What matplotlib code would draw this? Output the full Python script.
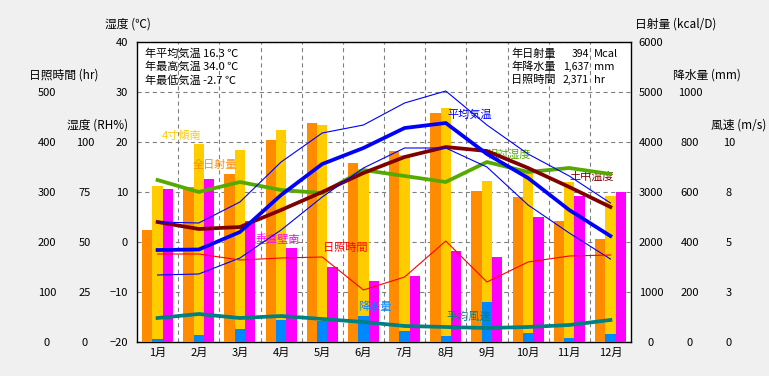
import numpy as np
import matplotlib
matplotlib.use("Agg")
import matplotlib.pyplot as plt

plt.rcParams['font.family'] = ['Noto Sans CJK JP', 'DejaVu Sans']
plt.rcParams['lines.scale_dashes'] = False

months = ["1月", "2月", "3月", "4月", "5月", "6月", "7月", "8月", "9月", "10月", "11月", "12月"]

# 日射量 (kcal/D)
solar_total = [2240, 3100, 3360, 4040, 4380, 3580, 3820, 4580, 3020, 2900, 2420, 2060]   # 全日射量
solar_tilt = [3120, 3960, 3840, 4240, 4340, 3460, 3740, 4680, 3220, 3400, 3200, 2920]    # 4寸傾南
solar_wall = [3060, 3260, 2420, 1880, 1500, 1220, 1320, 1820, 1700, 2500, 2920, 3000]    # 垂直壁南
# 降水量 (mm)
precip = [12, 28, 52, 88, 84, 104, 44, 24, 160, 36, 16, 32]
# 温度 (℃)
temp_mean = [-1.6, -1.5, 2.0, 9.4, 15.6, 18.8, 22.8, 23.8, 17.6, 12.8, 6.4, 1.2]
temp_max = [4.0, 3.8, 8.0, 16.0, 21.8, 23.4, 27.8, 30.2, 23.4, 17.6, 13.2, 7.8]
temp_min = [-6.6, -6.4, -3.2, 2.4, 9.0, 14.8, 18.8, 18.8, 15.0, 7.4, 1.8, -3.4]
soil_temp = [4.0, 2.6, 3.0, 6.4, 10.0, 13.8, 17.0, 19.0, 18.2, 14.8, 11.0, 7.0]
# 湿度 (RH%)
humidity = [81, 75, 80, 76, 74.5, 86, 83, 80, 90, 85, 87, 84]
# 日照時間 (hr)
sunshine = [176, 176, 164, 168, 170, 104, 130, 202, 120, 160, 172, 174]
# 風速 (m/s)
wind = [1.2, 1.4, 1.2, 1.3, 1.15, 1.0, 0.8, 0.75, 0.7, 0.75, 0.85, 1.1]

temp_ticks = [-20, -10, 0, 10, 20, 30, 40]
sun_ticks = [0, 100, 200, 300, 400, 500]
hum_ticks = [0, 25, 50, 75, 100]
solar_ticks = [0, 1000, 2000, 3000, 4000, 5000, 6000]
prec_ticks = [0, 200, 400, 600, 800, 1000]
wind_ticks = [0, 2.5, 5, 7.5, 10]
wind_labels = ["0", "3", "5", "8", "10"]

W, H = 769, 376
fig = plt.figure(figsize=(W / 100, H / 100), dpi=100, facecolor='#f0f0f0')
L, T, R, B = 137, 42, 631, 342
ax = fig.add_axes([L / W, 1 - B / H, (R - L) / W, (B - T) / H])
x = np.arange(1, 13)


def fpos(xp, yp):
    return xp / W, 1 - yp / H


def twin(lo, hi):
    a = ax.twinx()
    a.set_ylim(lo, hi)
    a.patch.set_visible(False)
    for s in a.spines.values():
        s.set_visible(False)
    a.set_yticks([])
    return a


def scale_labels(a, side, off_px, ticks, labels=None):
    if labels is None:
        labels = [str(t) for t in ticks]
    a.set_yticks(ticks, labels=labels)
    if side == 'left':
        a.yaxis.tick_left()
    else:
        a.yaxis.tick_right()
    a.spines[side].set_position(('outward', off_px * 0.72))
    a.tick_params(axis='y', length=0, pad=0, labelsize=8)
    for t in a.yaxis.get_major_ticks():
        t.label1.set_ha('center')
        t.label2.set_ha('center')


# main axis: temperature
ax.set_xlim(0.5, 12.5)
ax.set_ylim(-20, 40)
ax.set_yticks(temp_ticks)
ax.tick_params(axis='y', length=0, pad=6.5, labelsize=8)
ax.set_xticks(x, labels=months)
ax.set_xticks(np.arange(1.5, 12, 1), minor=True)
ax.tick_params(axis='x', which='both', length=0, pad=4, labelsize=8)
gstyle = dict(color='#808080', ls=(0, (3, 2.5)), lw=0.8)
ax.grid(which='minor', axis='x', **gstyle)
ax.grid(which='major', axis='y', **gstyle)
ax.set_axisbelow(True)
for s in ax.spines.values():
    s.set_linewidth(1.0)
    s.set_color('black')

# bars
ax_solar = twin(0, 6000)
ax_solar.bar(x - 0.25, solar_total, 0.25, color='#ff8c00', lw=0)
ax_solar.bar(x, solar_tilt, 0.25, color='#ffcc00', lw=0)
ax_solar.bar(x + 0.25, solar_wall, 0.25, color='#ff00ff', lw=0)
scale_labels(ax_solar, 'right', 20, solar_ticks)

ax_prec = twin(0, 1200)
ax_prec.bar(x, precip, 0.25, color='#0088ff', lw=0)
scale_labels(ax_prec, 'right', 59, prec_ticks)

# series labels
ax_txt = twin(-20, 40)
series_labels = [
    ("4寸傾南", '#ffcc00', 162, 136),
    ("全日射量", '#ff8c00', 193, 165),
    ("垂直壁南", '#ff00ff', 255, 240),
    ("日照時間", '#ff0000', 323, 248),
    ("降水量", '#0088ff', 358, 307),
    ("平均風速", '#008080', 446, 317),
    ("平均気温", '#0000ff', 447, 115),
    ("相対湿度", '#55aa00', 487, 155),
    ("土中温度", '#800000', 569, 177),
]
for s, c, xp, yp in series_labels:
    ax_txt.text(*fpos(xp, yp), s, color=c, fontsize=8, ha='left', va='center',
                transform=fig.transFigure)

# lines
ax_hum = twin(0, 150)
ax_hum.plot(x, humidity, color='#55aa00', lw=2.7)
scale_labels(ax_hum, 'left', 52, hum_ticks)

ax_tl = twin(-20, 40)
ax_tl.plot(x, soil_temp, color='#800000', lw=2.7)
ax_tl.plot(x, temp_mean, color='#0000ff', lw=2.7)
ax_tl.plot(x, temp_max, color='#0000ff', lw=0.8)
ax_tl.plot(x, temp_min, color='#0000ff', lw=0.8)

ax_sun = twin(0, 600)
ax_sun.plot(x, sunshine, color='#ff0000', lw=0.8)
scale_labels(ax_sun, 'left', 90, sun_ticks)

ax_wind = twin(0, 15)
ax_wind.plot(x, wind, color='#008080', lw=2.7)
scale_labels(ax_wind, 'right', 98, wind_ticks, wind_labels)

# axis titles
titles = [
    ("湿度 (℃)", 105, 24),
    ("日照時間 (hr)", 29, 75),
    ("湿度 (RH%)", 67, 125),
    ("日射量 (kcal/D)", 635, 24),
    ("降水量 (mm)", 673, 75),
    ("風速 (m/s)", 711, 125),
]
for s, xp, yp in titles:
    fig.text(*fpos(xp, yp), s, fontsize=8.5, ha='left', va='center')

# annual summary
left_stats = ["年平均気温 16.3 ℃", "年最高気温 34.0 ℃", "年最低気温 -2.7 ℃"]
right_names = ["年日射量", "年降水量", "日照時間"]
right_values = ["394", "1,637", "2,371"]
right_units = ["Mcal", "mm", "hr"]
for i in range(3):
    yp = 54 + 13 * i
    fig.text(*fpos(145, yp), left_stats[i], fontsize=8, ha='left', va='center')
    fig.text(*fpos(511, yp), right_names[i], fontsize=8, ha='left', va='center')
    fig.text(*fpos(589, yp), right_values[i], fontsize=7.5, ha='right', va='center')
    fig.text(*fpos(594, yp), right_units[i], fontsize=8, ha='left', va='center')

fig.savefig("out.png", dpi=100, facecolor=fig.get_facecolor())
